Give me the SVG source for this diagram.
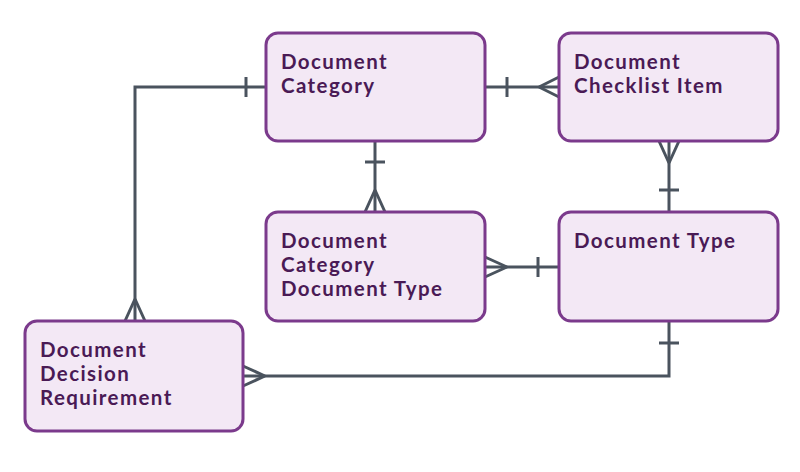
<svg xmlns="http://www.w3.org/2000/svg" width="800" height="472" viewBox="0 0 800 472">
<style>
.n{fill:#f3e8f5;stroke:#7b3a8c;stroke-width:3}
.t{font-family:Lato,"Liberation Sans",sans-serif;font-weight:bold;font-size:20.5px;letter-spacing:1.4px;fill:#4a1a55}
.c{fill:none;stroke:#4a535e;stroke-width:3}
</style>
<rect width="800" height="472" fill="#fff"/>
<g id="connectors" class="c">
<path d="M266,87 H135 V321"/><path d="M246,77 V97"/><path d="M135,299 L125,321 M135,299 L145,321"/>
<path d="M485,87 H559"/><path d="M507,77 V97"/><path d="M539,87 L559,77 M539,87 L559,97"/>
<path d="M375,141 V212"/><path d="M365,162 H385"/><path d="M375,190 L365,212 M375,190 L385,212"/>
<path d="M669,141 V212"/><path d="M659,190 H679"/><path d="M669,163 L659,141 M669,163 L679,141"/>
<path d="M485,267 H559"/><path d="M538,257 V277"/><path d="M507,267 L485,257 M507,267 L485,277"/>
<path d="M669,321 V376 H243"/><path d="M659,343 H679"/><path d="M265,376 L243,366 M265,376 L243,386"/>
</g>
<g id="doc-category"><rect class="n" x="266" y="33" width="219" height="108" rx="12"/><text class="t" x="281" y="69">Document</text><text class="t" x="281" y="93">Category</text></g>
<g id="doc-checklist-item"><rect class="n" x="559" y="33" width="219" height="108" rx="12"/><text class="t" x="574" y="69">Document</text><text class="t" x="574" y="93">Checklist Item</text></g>
<g id="doc-category-doc-type"><rect class="n" x="266" y="212" width="219" height="109" rx="12"/><text class="t" x="281" y="248">Document</text><text class="t" x="281" y="272">Category</text><text class="t" x="281" y="296">Document Type</text></g>
<g id="doc-type"><rect class="n" x="559" y="212" width="219" height="109" rx="12"/><text class="t" x="574" y="248">Document Type</text></g>
<g id="doc-decision-req"><rect class="n" x="25" y="321" width="218" height="110" rx="12"/><text class="t" x="40" y="357">Document</text><text class="t" x="40" y="381">Decision</text><text class="t" x="40" y="405">Requirement</text></g>
</svg>
